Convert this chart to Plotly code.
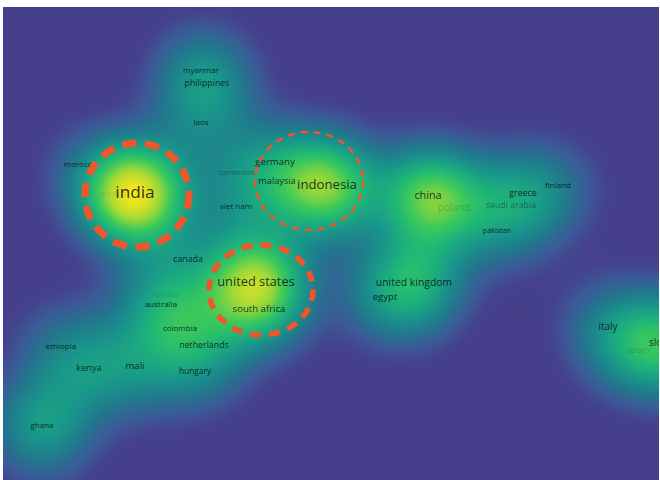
import numpy as np
import plotly.graph_objects as go

# Country items of the co-occurrence map: label, map coordinates, documents and link strength
countries = [
    "india", "mexico", "morocco",
    "indonesia", "germany", "malaysia", "cameroon", "viet nam",
    "united states", "south africa", "canada",
    "china", "poland",
    "greece", "saudi arabia", "finland", "pakistan",
    "united kingdom", "egypt",
    "italy", "slovenia", "spain",
    "myanmar", "philippines", "laos",
    "norway", "australia", "colombia", "netherlands", "hungary",
    "ethiopia", "kenya", "mali", "ghana",
]
map_x = [
    135, 113, 80,
    327, 275, 277, 237, 236,
    256, 259, 188,
    428, 454,
    523, 511, 558, 497,
    414, 385,
    608, 668, 638,
    201, 207, 201,
    166, 161, 180, 204, 195,
    61, 89, 135, 42,
]
map_y = [
    194, 194, 165,
    186, 163, 182, 173, 207,
    283, 310, 260,
    196, 208,
    194, 206, 186, 231,
    283, 298,
    327, 343, 351,
    71, 84, 123,
    295, 305, 329, 346, 372,
    347, 369, 367, 426,
]
documents = [
    28, 5, 5,
    18, 9, 8, 4, 5,
    17, 9, 7,
    12, 10,
    7, 7, 5, 3,
    11, 9,
    10, 10, 8,
    5, 7, 5,
    5, 5, 5, 7, 6,
    5, 8, 9, 5,
]
link_strength = [
    32, 3, 3,
    24, 5, 5, 3, 4,
    25, 6, 4,
    21, 5,
    6, 6, 4, 3,
    15, 6,
    7, 15, 7,
    6, 6, 5,
    4, 6, 6, 6, 4,
    5, 7, 7, 13,
]
# Labels drawn faded where they overlap a stronger item
faded = {"mexico": 0.15, "norway": 0.18, "poland": 0.22, "spain": 0.22,
         "cameroon": 0.45, "saudi arabia": 0.45}

# Dashed highlight rings: (center x, center y, radius x, radius y)
rings_india = (137, 195, 52, 52)
rings_indonesia = (309, 181, 54, 49)
rings_us = (261, 290, 52, 45)

# Kernel density surface over the map
kernel_width = 35.0
gx = np.arange(0, 664, 3.0)
gy = np.arange(4, 484, 3.0)
GX, GY = np.meshgrid(gx, gy)
density = np.zeros_like(GX)
for x, y, w in zip(map_x, map_y, link_strength):
    density += w * np.exp(-((GX - x) ** 2 + (GY - y) ** 2) / (2 * kernel_width ** 2))
density = density / density.max()

colorscale = [
    [0.00, "#463f8b"],
    [0.05, "#45418c"],
    [0.12, "#3b5a97"],
    [0.23, "#21788d"],
    [0.37, "#19978a"],
    [0.52, "#1fb677"],
    [0.64, "#3cc95a"],
    [0.79, "#9ad838"],
    [1.00, "#f7e51c"],
]

fig = go.Figure()
fig.add_trace(go.Heatmap(
    x=gx, y=gy, z=density, colorscale=colorscale, zmin=0, zmax=1,
    zsmooth="best", showscale=False, hoverinfo="skip",
))

font_sizes = [6 + 0.4 * d for d in documents]
label_colors = [f"rgba(8,16,20,{faded.get(c, 0.85)})" for c in countries]
fig.add_trace(go.Scatter(
    x=map_x, y=map_y, mode="text", text=countries,
    textposition="middle center",
    textfont=dict(family="Open Sans", size=font_sizes, color=label_colors),
    hoverinfo="skip", cliponaxis=True,
))

ring_color = "#f0562a"
for (cx, cy, rx, ry), width, dash in [
    (rings_india, 7, "14px,9px"),
    (rings_indonesia, 2.5, "7px,6px"),
    (rings_us, 5.5, "11px,8px"),
]:
    fig.add_shape(type="circle", xref="x", yref="y",
                  x0=cx - rx, x1=cx + rx, y0=cy - ry, y1=cy + ry,
                  line=dict(color=ring_color, width=width, dash=dash))

fig.update_layout(
    width=660, height=480,
    margin=dict(l=3, r=1, t=7, b=0),
    paper_bgcolor="white", plot_bgcolor="#463f8b",
    showlegend=False,
    xaxis=dict(range=[3, 659], visible=False, fixedrange=True),
    yaxis=dict(range=[480, 7], visible=False, fixedrange=True),
)
fig.write_html("out.html")
